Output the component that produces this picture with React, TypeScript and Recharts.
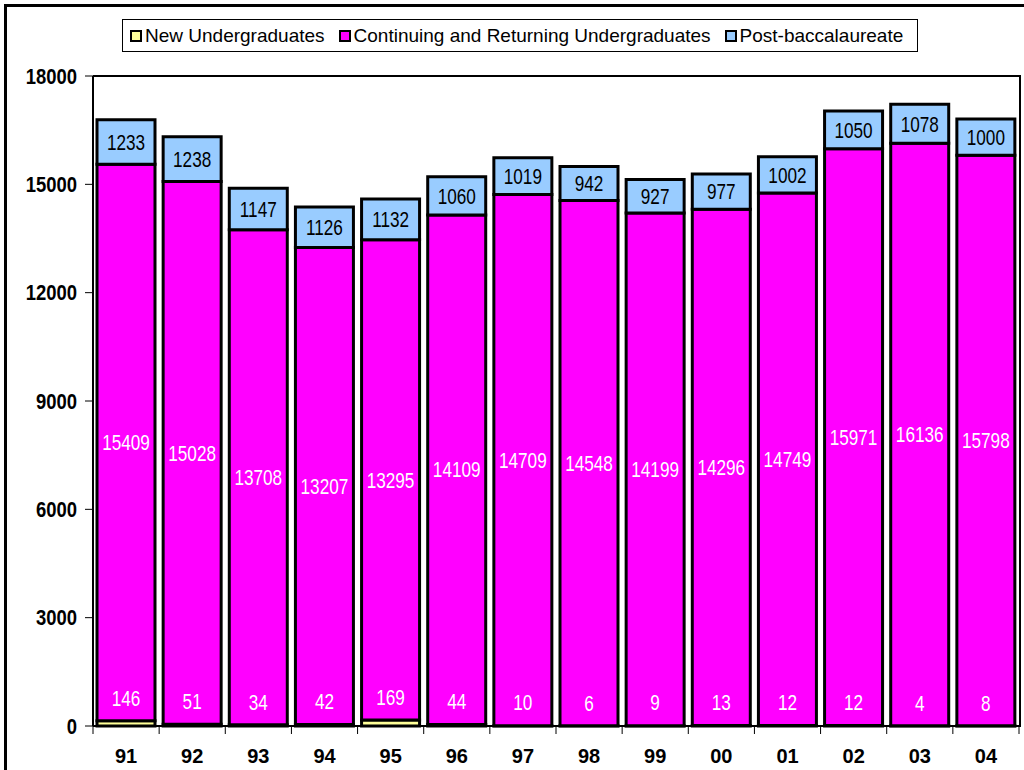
import React from "react";
import { BarChart, Bar, XAxis, YAxis, Legend, LabelList } from "recharts";

const YEARS = ["91", "92", "93", "94", "95", "96", "97", "98", "99", "00", "01", "02", "03", "04"];
const NEW_UG = [146, 51, 34, 42, 169, 44, 10, 6, 9, 13, 12, 12, 4, 8];
const CONT_UG = [15409, 15028, 13708, 13207, 13295, 14109, 14709, 14548, 14199, 14296, 14749, 15971, 16136, 15798];
const POST_BAC = [1233, 1238, 1147, 1126, 1132, 1060, 1019, 942, 927, 977, 1002, 1050, 1078, 1000];
const Y_TICKS = [0, 3000, 6000, 9000, 12000, 15000, 18000];

const SERIES = [
  { key: "newUg", name: "New Undergraduates", color: "#FFFF99" },
  { key: "contUg", name: "Continuing and Returning Undergraduates", color: "#FF00FF" },
  { key: "postBac", name: "Post-baccalaureate", color: "#99CCFF" },
];

const data = YEARS.map((year, i) => ({
  year,
  newUg: NEW_UG[i],
  contUg: CONT_UG[i],
  postBac: POST_BAC[i],
}));

const W = 1024;
const H = 770;
const PLOT_LEFT = 93;
const PLOT_TOP = 76;
const PLOT_RIGHT = 1019;
const PLOT_BOTTOM = 726;
const BAND = (PLOT_RIGHT - PLOT_LEFT) / YEARS.length;

const ARIAL = "'Liberation Sans', Arial, sans-serif";
// no Arial Narrow installed: squeeze Liberation Sans horizontally

function NarrowText(props: any) {
  const { x, y, anchor = "middle", bold, size, fill, scale = 0.8, children } = props;
  return (
    <text
      transform={`translate(${x},${y}) scale(${scale},1)`}
      textAnchor={anchor}
      dominantBaseline="central"
      fontFamily={ARIAL}
      fontWeight={bold ? 700 : 400}
      fontSize={size}
      fill={fill}
    >
      {children}
    </text>
  );
}

function YTick(props: any) {
  const { x, y, payload } = props;
  return (
    <NarrowText x={x} y={y} anchor="end" bold size={22} scale={0.84} fill="#000">
      {payload.value}
    </NarrowText>
  );
}

function XTick(props: any) {
  const { x, payload, index } = props;
  const last = index === YEARS.length - 1;
  return (
    <g>
      <line x1={x - BAND / 2} x2={x - BAND / 2} y1={PLOT_BOTTOM} y2={PLOT_BOTTOM + 8} stroke="#000" strokeWidth={1} />
      {last && <line x1={x + BAND / 2} x2={x + BAND / 2} y1={PLOT_BOTTOM} y2={PLOT_BOTTOM + 8} stroke="#000" strokeWidth={1} />}
      <text x={x} y={PLOT_BOTTOM + 30} textAnchor="middle" dominantBaseline="central" fontFamily={ARIAL} fontWeight={700} fontSize={20} fill="#000">
        {payload.value}
      </text>
    </g>
  );
}

function NewLabel(props: any) {
  const { x, y, width, value } = props;
  return (
    <NarrowText x={x + width / 2} y={y - 23} size={22} scale={0.78} fill="#fff">
      {value}
    </NarrowText>
  );
}

function CenterLabel(props: any) {
  const { x, y, width, height, value, color } = props;
  return (
    <NarrowText x={x + width / 2} y={y + height / 2} size={22} scale={0.78} fill={color}>
      {value}
    </NarrowText>
  );
}

function renderLegend() {
  return (
    <div
      style={{
        border: "1px solid #000",
        height: 33,
        display: "flex",
        alignItems: "center",
        paddingLeft: 7,
        boxSizing: "border-box",
        fontFamily: ARIAL,
        fontSize: 19,
        color: "#000",
        whiteSpace: "nowrap",
      }}
    >
      {SERIES.map((s) => (
        <span key={s.key} style={{ display: "flex", alignItems: "center", marginRight: 14 }}>
          <span
            style={{
              display: "inline-block",
              width: 8,
              height: 8,
              border: "2px solid #000",
              background: s.color,
              marginRight: 3,
            }}
          />
          {s.name}
        </span>
      ))}
    </div>
  );
}

export default function App() {
  return (
    <div style={{ position: "absolute", left: 0, top: 0, width: W, height: H, overflow: "hidden", background: "#fff" }}>
      <div
        style={{
          position: "absolute",
          left: 4,
          top: 4,
          width: W + 20,
          height: H + 20,
          borderTop: "3px solid #000",
          borderLeft: "3px solid #000",
        }}
      />
      <BarChart
        width={W}
        height={H}
        data={data}
        margin={{ top: PLOT_TOP, right: W - PLOT_RIGHT, left: 0, bottom: 0 }}
        barCategoryGap={4}
      >
        <XAxis
          dataKey="year"
          height={H - PLOT_BOTTOM}
          axisLine={{ stroke: "#000", strokeWidth: 2 }}
          tickLine={false}
          tick={<XTick />}
          interval={0}
        />
        <YAxis
          width={PLOT_LEFT}
          domain={[0, 18000]}
          ticks={Y_TICKS}
          interval={0}
          axisLine={{ stroke: "#000", strokeWidth: 2 }}
          tickLine={{ stroke: "#000", strokeWidth: 1 }}
          tickSize={8}
          tickMargin={8}
          tick={<YTick />}
        />
        <Legend
          verticalAlign="middle"
          align="center"
          layout="horizontal"
          wrapperStyle={{ top: 19, left: 122, width: 796, height: 35 }}
          content={renderLegend}
        />
        <Bar dataKey="newUg" name={SERIES[0].name} stackId="a" fill={SERIES[0].color} stroke="#000" strokeWidth={3} isAnimationActive={false}>
          <LabelList dataKey="newUg" content={<NewLabel />} />
        </Bar>
        <Bar dataKey="contUg" name={SERIES[1].name} stackId="a" fill={SERIES[1].color} stroke="#000" strokeWidth={3} isAnimationActive={false}>
          <LabelList dataKey="contUg" content={<CenterLabel color="#fff" />} />
        </Bar>
        <Bar dataKey="postBac" name={SERIES[2].name} stackId="a" fill={SERIES[2].color} stroke="#000" strokeWidth={3} isAnimationActive={false}>
          <LabelList dataKey="postBac" content={<CenterLabel color="#000" />} />
        </Bar>
      </BarChart>
      <div
        style={{
          position: "absolute",
          left: PLOT_LEFT,
          top: PLOT_TOP - 1,
          width: PLOT_RIGHT - PLOT_LEFT,
          height: PLOT_BOTTOM - PLOT_TOP,
          borderTop: "2px solid #000",
          borderRight: "2px solid #000",
          pointerEvents: "none",
        }}
      />
    </div>
  );
}
